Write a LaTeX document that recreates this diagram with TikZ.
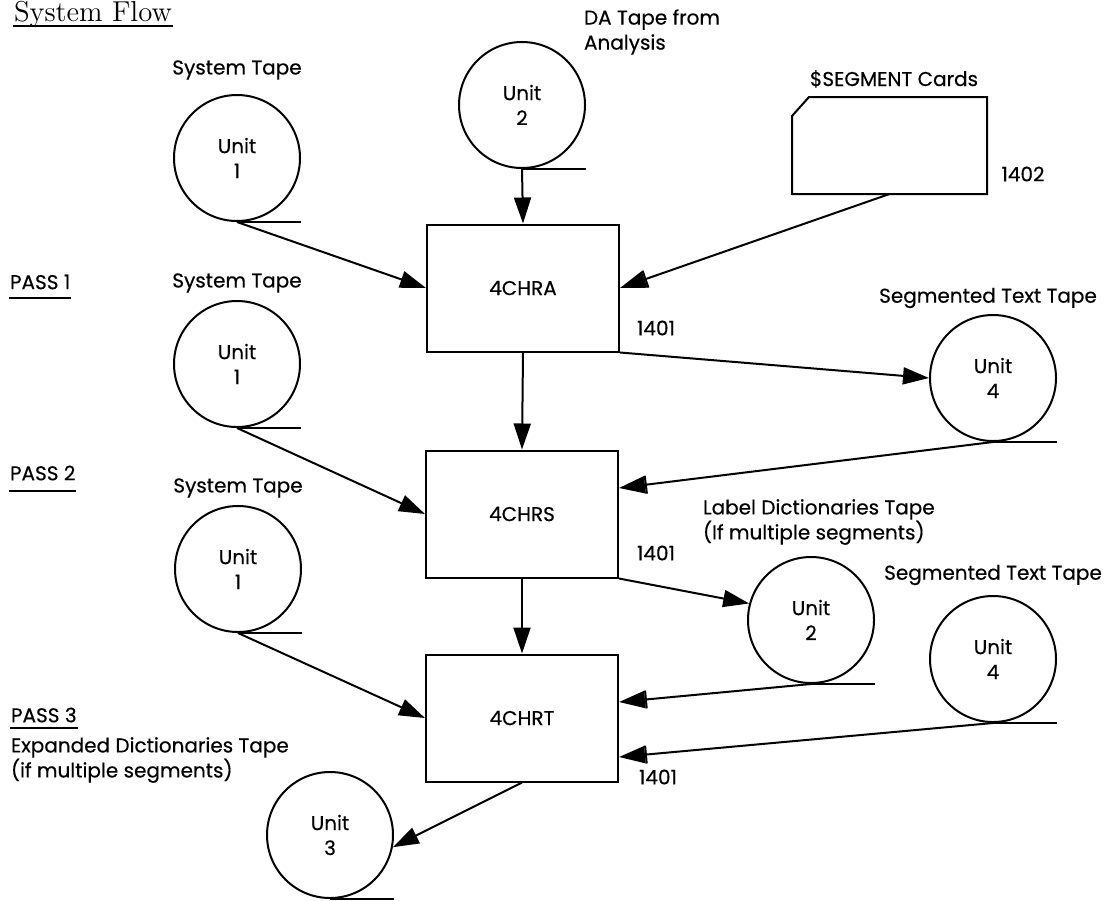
\documentclass[tikz,border=0pt]{standalone}
\usepackage{fontspec}
\newfontfamily\flowfont[FakeBold=0.4]{Poppins}
\usepackage{tikz}
\usetikzlibrary{arrows.meta,positioning}

\begin{document}
\begin{tikzpicture}[x=0.5pt,y=-0.5pt,line width=1pt,
		font=\flowfont\fontsize{10}{12.5}\selectfont,
		tape/.style={draw,circle,minimum size=63pt,inner sep=0pt,align=center},
		prog/.style={draw,rectangle,minimum width=96pt,minimum height=63.5pt},
		note/.style={inner sep=0pt,align=left},
		arr/.style={-{Triangle[length=13pt,width=8.5pt]}},
		inarr/.style={-{Bar[width=9pt,sep=0pt]Triangle[length=13pt,width=8.5pt,sep=0pt]}}]
		\useasboundingbox (0,0) rectangle (1107,900);
		\node[anchor=base west,inner sep=0pt,font=\rmfamily\fontsize{14.4}{16}\selectfont] (title) at (13,21) {System Flow};
		\draw ([yshift=-2.5pt]title.base west) -- ([yshift=-2.5pt]title.base east);
		\node[note,anchor=west] (pa) at (9,282) {PASS 1};
		\draw ([yshift=-4pt]pa.south west) -- ([yshift=-4pt]pa.south east);
		\node[note,anchor=west] (pb) at (9,473) {PASS 2};
		\draw ([yshift=-5pt]pb.south west) -- ([yshift=-5pt]pb.south east);
		\node[note,anchor=west] (pc) at (10,715) {PASS 3};
		\draw ([yshift=-2.5pt]pc.south west) -- ([yshift=-2.5pt]pc.south east);
		\node[note,anchor=west] (expd) at (10,760) {Expanded Dictionaries Tape\\(if multiple segments)};
		\node[tape] (sys) at (237,158) {Unit\\1};
		\node (syslab) at (237,70) {System Tape};
		\node[tape] (da) at (522,105) {Unit\\2};
		\node[note,anchor=west] (dalab) at (583,32) {DA Tape from\\Analysis};
		\node[tape] (sysa) at (237,364) {Unit\\1};
		\node (sysalab) at (237,283) {System Tape};
		\node[tape] (sega) at (993,378) {Unit\\4};
		\node (segalab) at (988,298) {Segmented Text Tape};
		\node[tape] (sysb) at (238,569) {Unit\\1};
		\node (sysblab) at (238,488) {System Tape};
		\node[tape] (lbl) at (811,620) {Unit\\2};
		\node[note,anchor=west] (lbllab) at (702,522) {Label Dictionaries Tape\\(If multiple segments)};
		\node[tape] (segb) at (993,659) {Unit\\4};
		\node (segblab) at (993,575) {Segmented Text Tape};
		\node[tape] (expt) at (330,835) {Unit\\3};
		\foreach \t in {sys,da,sysa,sega,sysb,lbl,segb,expt}
			\draw (\t.south) -- (\t.south -| \t.east);
		\node[minimum width=96.5pt,minimum height=47.5pt] (cards) at (889.5,145.5) {};
		\draw ([yshift=-9.5pt]cards.north west) -- ([xshift=8.5pt]cards.north west) -- (cards.north east) -- (cards.south east) -- (cards.south west) -- cycle;
		\node (cardlab) at (894,79) {\$SEGMENT Cards};
		\node (rdr) at (1023,174) {1402};
		\node[prog] (chra) at (523,288) {4CHRA};
		\node (cpua) at (656,328) {1401};
		\node[prog] (chrs) at (522,514) {4CHRS};
		\node (cpub) at (656,553) {1401};
		\node[prog] (chrt) at (522,718) {4CHRT};
		\node (cpuc) at (658,777) {1401};
		\draw[arr] (sys.south) -- (chra.west);
		\draw[arr] (da.south) -- (chra.north);
		\draw[inarr] (cards.south) -- (chra.east);
		\draw[arr] (sysa.south) -- (chrs.west);
		\draw[arr] (chra.south) -- (chrs.north);
		\draw[arr] (chra.south east) -- (sega.west);
		\draw[inarr] (sega.south) -- ([yshift=13pt]chrs.east);
		\draw[arr] (sysb.south) -- (chrt.west);
		\draw[arr] (chrs.south) -- (chrt.north);
		\draw[arr] (chrs.south east) -- (lbl.165);
		\draw[inarr] (lbl.south) -- ([yshift=8pt]chrt.east);
		\draw[inarr] (segb.south) -- ([yshift=-19.5pt]chrt.east);
		\draw[arr] (chrt.south) -- (expt.-11);
\end{tikzpicture}
\end{document}
